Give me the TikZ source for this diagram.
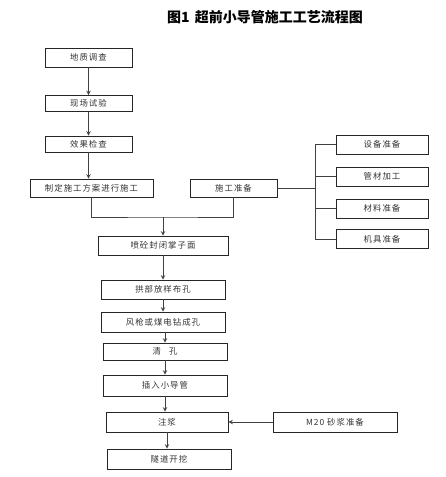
\documentclass[tikz,border=0pt]{standalone}
\usepackage{fontspec}
\usepackage{tikz}
\newfontfamily\cjk[LetterSpace=12]{Noto Sans CJK SC}
\newfontfamily\cjktitle{Noto Sans CJK SC}

\begin{document}
\begin{tikzpicture}[x=0.75pt,y=-0.75pt,
    stepbox/.style={draw=black!85,line width=0.6pt,minimum height=18*0.75pt,inner sep=0pt,
        font=\cjk\fontsize{6.3}{7}\selectfont,text=black!80},
    link/.style={draw=black!75,line width=0.5pt},
    arr/.style={link,->,>=stealth}]
    \useasboundingbox (0,0) rectangle (445,477);
    \node (title) at (265,17) {\cjktitle\bfseries\fontsize{10.5}{12}\selectfont 图1\hspace{4pt}超前小导管施工工艺流程图};

    \node[stepbox,minimum width=87*0.75pt,minimum height=19*0.75pt] (dz) at (88.5,57.5) {地质调查};
    \node[stepbox,minimum width=87*0.75pt,minimum height=16*0.75pt] (xc) at (88.5,103.5) {现场试验};
    \node[stepbox,minimum width=87*0.75pt,minimum height=16*0.75pt] (xg) at (88.5,144) {效果检查};
    \node[stepbox,minimum width=123*0.75pt] (zd) at (91.5,188) {制定施工方案进行施工};
    \node[stepbox,minimum width=87*0.75pt] (sg) at (233.5,188) {施工准备};

    \node[stepbox,minimum width=92*0.75pt,minimum height=19*0.75pt] (sb) at (382,144.5) {设备准备};
    \node[stepbox,minimum width=92*0.75pt,minimum height=19*0.75pt] (gc) at (382,176.5) {管材加工};
    \node[stepbox,minimum width=92*0.75pt,minimum height=19*0.75pt] (cl) at (382,208.5) {材料准备};
    \node[stepbox,minimum width=92*0.75pt,minimum height=19*0.75pt] (jj) at (382,239) {机具准备};

    \node[stepbox,minimum width=130*0.75pt,minimum height=19*0.75pt] (pt) at (163,245.5) {喷砼封闭掌子面};
    \node[stepbox,minimum width=124*0.75pt,minimum height=19*0.75pt] (gb) at (163,289.5) {拱部放样布孔};
    \node[stepbox,minimum width=124*0.75pt,minimum height=20*0.75pt] (fq) at (163,322) {风枪或煤电钻成孔};
    \node[stepbox,minimum width=124*0.75pt,minimum height=17*0.75pt] (qk) at (165,351.5) {清\hspace{6pt}孔};
    \node[stepbox,minimum width=124*0.75pt,minimum height=21*0.75pt] (cr) at (165,385.5) {插入小导管};
    \node[stepbox,minimum width=122*0.75pt,minimum height=20*0.75pt] (zj) at (167,422) {注浆};
    \node[stepbox,minimum width=124*0.75pt,minimum height=20*0.75pt] (sj) at (335,422) {M20 砂浆准备};
    \node[stepbox,minimum width=124*0.75pt,minimum height=20*0.75pt] (sd) at (169,459) {隧道开挖};

    \coordinate (hub) at (163,217);
    \coordinate (fork) at (315,188);

    \draw[arr] (dz) -- (xc);
    \draw[arr] (xc) -- (xg);
    \draw[arr] (xg) -- (xg.south |- zd.north);
    \draw[link] (zd.south) |- (hub) -| (sg.south);
    \draw[arr] (hub) -- (pt.north);

    \draw[link] (sg.east) -- (fork);
    \draw[link] (fork |- sb.west) -- (fork |- jj.west);
    \foreach \r in {sb,gc,cl,jj}
        \draw[link] (fork |- \r.west) -- (\r.west);

    \draw[arr] (pt.south) -- (pt.south |- gb.north);
    \draw[arr] (gb.south) -- (gb.south |- fq.north);
    \draw[arr] (qk.north |- fq.south) -- (qk.north);
    \draw[arr] (qk.south) -- (qk.south |- cr.north);
    \draw[arr] (cr.south) -- (cr.south |- zj.north);
    \draw[arr] (sj.west) -- (zj.east);
    \draw[arr] (zj.south) -- (zj.south |- sd.north);
\end{tikzpicture}
\end{document}
